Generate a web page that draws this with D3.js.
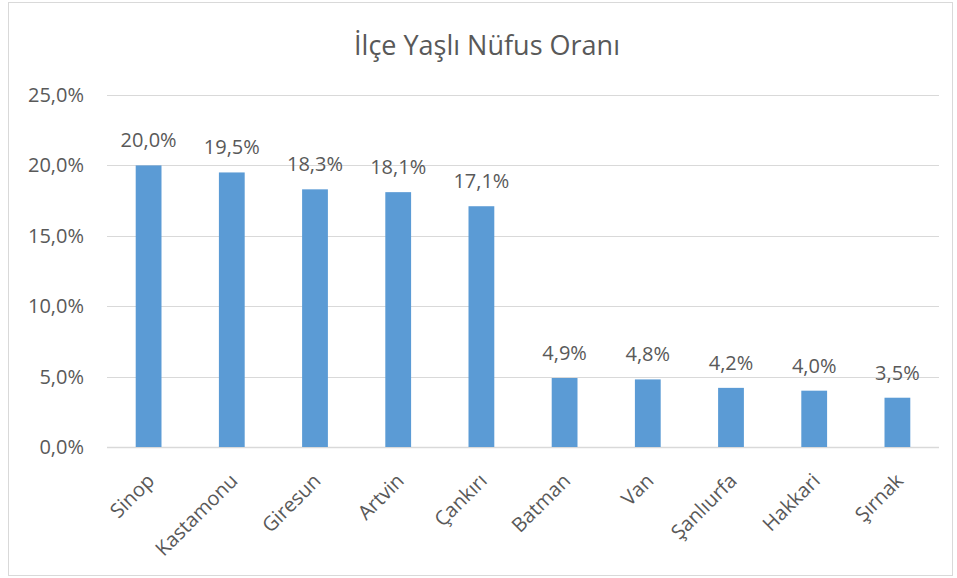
<!DOCTYPE html>
<html>
<head>
<meta charset="utf-8">
<script src="https://cdn.jsdelivr.net/npm/d3@7"></script>
<style>
  body { margin: 0; background: #fff; }
  text { font-family: "Open Sans", sans-serif; fill: #595959; }
</style>
</head>
<body>
<div id="chart"></div>
<script>
var categories = ["Sinop", "Kastamonu", "Giresun", "Artvin", "Çankırı", "Batman", "Van", "Şanlıurfa", "Hakkari", "Şırnak"];
var values = [20.0, 19.5, 18.3, 18.1, 17.1, 4.9, 4.8, 4.2, 4.0, 3.5];
var yTicks = [0, 5, 10, 15, 20, 25];
var title = "İlçe Yaşlı Nüfus Oranı";

var width = 957, height = 578;
var margin = { left: 107, right: 18, top: 95, bottom: 131 };

var svg = d3.select("#chart").append("svg")
    .attr("width", width)
    .attr("height", height);

// chart frame
svg.append("rect")
    .attr("x", 8.5).attr("y", 2.5)
    .attr("width", 944).attr("height", 573)
    .attr("fill", "#fff")
    .attr("stroke", "#d9d9d9")
    .attr("stroke-width", 1);

var x = d3.scaleBand()
    .domain(categories)
    .range([margin.left, width - margin.right])
    .paddingInner(0.69)
    .paddingOuter(0.345);

var y = d3.scaleLinear()
    .domain([0, 25])
    .range([height - margin.bottom, margin.top]);

var fmt = function(v) { return d3.format(".1f")(v).replace(".", ",") + "%"; };

// gridlines
svg.append("g").selectAll("line")
    .data(yTicks)
    .enter().append("line")
      .attr("x1", margin.left)
      .attr("x2", width - margin.right)
      .attr("y1", function(d) { return Math.round(y(d)) + 0.5; })
      .attr("y2", function(d) { return Math.round(y(d)) + 0.5; })
      .attr("stroke", "#d9d9d9")
      .attr("stroke-width", function(d) { return d === 0 ? 1.5 : 1; });

// y tick labels
svg.append("g").selectAll("text")
    .data(yTicks)
    .enter().append("text")
      .attr("x", 84)
      .attr("y", function(d) { return y(d); })
      .attr("dy", "0.35em")
      .style("text-anchor", "end")
      .style("font-size", "20px")
      .text(fmt);

// bars
svg.append("g").selectAll("rect")
    .data(values)
    .enter().append("rect")
      .attr("x", function(d, i) { return x(categories[i]); })
      .attr("y", function(d) { return y(d); })
      .attr("width", x.bandwidth())
      .attr("height", function(d) { return y(0) - y(d); })
      .attr("fill", "#5b9bd5");

// value labels
svg.append("g").selectAll("text")
    .data(values)
    .enter().append("text")
      .attr("x", function(d, i) { return x(categories[i]) + x.bandwidth() / 2; })
      .attr("y", function(d) { return y(d) - 18; })
      .style("text-anchor", "middle")
      .style("font-size", "20px")
      .text(fmt);

// category labels
svg.append("g").selectAll("text")
    .data(categories)
    .enter().append("text")
      .attr("transform", function(d) {
        var cx = x(d) + x.bandwidth() / 2 - 3;
        return "translate(" + cx + "," + (y(0) + 25) + ") rotate(-45)";
      })
      .attr("dy", "0.71em")
      .style("text-anchor", "end")
      .style("font-size", "20px")
      .text(function(d) { return d; });

// title
svg.append("text")
    .attr("x", 487)
    .attr("y", 55)
    .style("text-anchor", "middle")
    .style("font-size", "27px")
    .text(title);
</script>
</body>
</html>
